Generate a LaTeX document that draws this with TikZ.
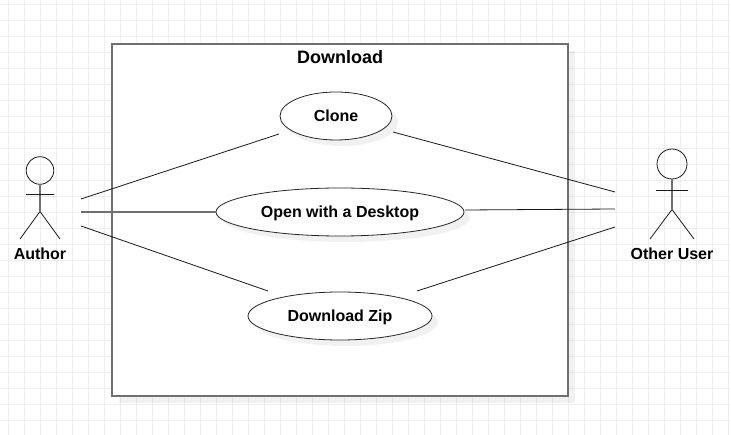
\documentclass[tikz,border=0pt]{standalone}
\usepackage{fontspec}
\setmainfont{Liberation Sans}
\usetikzlibrary{shapes.geometric}
\definecolor{midgray}{HTML}{707070}
\tikzset{
  usecase/.style={ellipse,draw=black!85,fill=white,line width=.8pt,inner sep=0pt,outer sep=0pt,minimum height=48pt,text height=11pt,text depth=0pt,font=\fontsize{16}{18}\selectfont\bfseries},
  shade/.style={fill=black,fill opacity=0.055,draw=none},
  stick/.style={draw=black!90,line width=.8pt},
  thick gray/.style={draw=midgray,line width=1.8pt},
  link/.style={draw=black!90,line width=.8pt},
  actorbox/.style={inner sep=0pt,outer sep=0pt,text height=11pt,text depth=0pt,font=\fontsize{16}{18}\selectfont\bfseries},
  gridline/.style={draw=black!7,line width=1pt}
}
\begin{document}
\begin{tikzpicture}[x=1pt,y=-1pt]
\useasboundingbox (0,0) rectangle (731,435);
\fill[white] (0,0) rectangle (731,435);
\foreach \gx in {8,24,...,728} \draw[gridline] (\gx+.5,0) -- (\gx+.5,435);
\foreach \gy in {4,20,...,435} \draw[gridline] (0,\gy+.5) -- (731,\gy+.5);
% system boundary
\fill[shade] (119,51) rectangle (575,403);
\node[draw=midgray,fill=white,line width=1.8pt,inner sep=0pt,outer sep=0pt,minimum width=456pt,minimum height=352pt,anchor=north west] (system) at (112,44) {};
\node[inner sep=0pt,text height=12pt,text depth=0pt,font=\fontsize{18}{20}\selectfont\bfseries] (title) at (340,58) {Download};
% shadows
\fill[shade] (342,122) ellipse [x radius=56,y radius=24];
\fill[shade] (346,218) ellipse [x radius=124,y radius=24];
\fill[shade] (346,322) ellipse [x radius=92,y radius=24];
% use cases
\node[usecase,minimum width=112pt] (clone) at (336,116) {Clone};
\node[usecase,minimum width=248pt] (open) at (340,212) {Open with a Desktop};
\node[usecase,minimum width=184pt] (zip) at (340,316) {Download Zip};
% author
\draw[stick] (40,170.5) circle [radius=13.8];
\draw[thick gray] (40,184.3) -- (40,211.5);
\draw[stick] (26,194.5) -- (54,194.5) (20,239) -- (40,211.5) -- (60,239);
\node[actorbox] (author) at (40,254) {Author};
% other user
\draw[stick] (672,164) circle [radius=15];
\draw[thick gray] (672,179) -- (672,209.5);
\draw[stick] (656,190.5) -- (688,190.5) (650,239) -- (672,209.5) -- (694,239);
\node[actorbox] (other) at (672,254) {Other User};
% connectors
\coordinate (authorA) at (81,199);
\coordinate (authorB) at (81,212);
\coordinate (authorC) at (81,226);
\coordinate (otherA) at (615,192);
\coordinate (otherB) at (615,209);
\coordinate (otherC) at (615,227);
\draw[link] (authorA) -- ([shift={(-57,18)}]clone.center);
\draw[thick gray] (authorB) -- (open.west);
\draw[link] (authorC) -- ([shift={(-72,-25)}]zip.center);
\draw[link] ([shift={(57,16)}]clone.center) -- (otherA);
\draw[link] ([shift={(125,-2)}]open.center) -- (otherB);
\draw[link] ([shift={(77,-25)}]zip.center) -- (otherC);
\end{tikzpicture}
\end{document}
